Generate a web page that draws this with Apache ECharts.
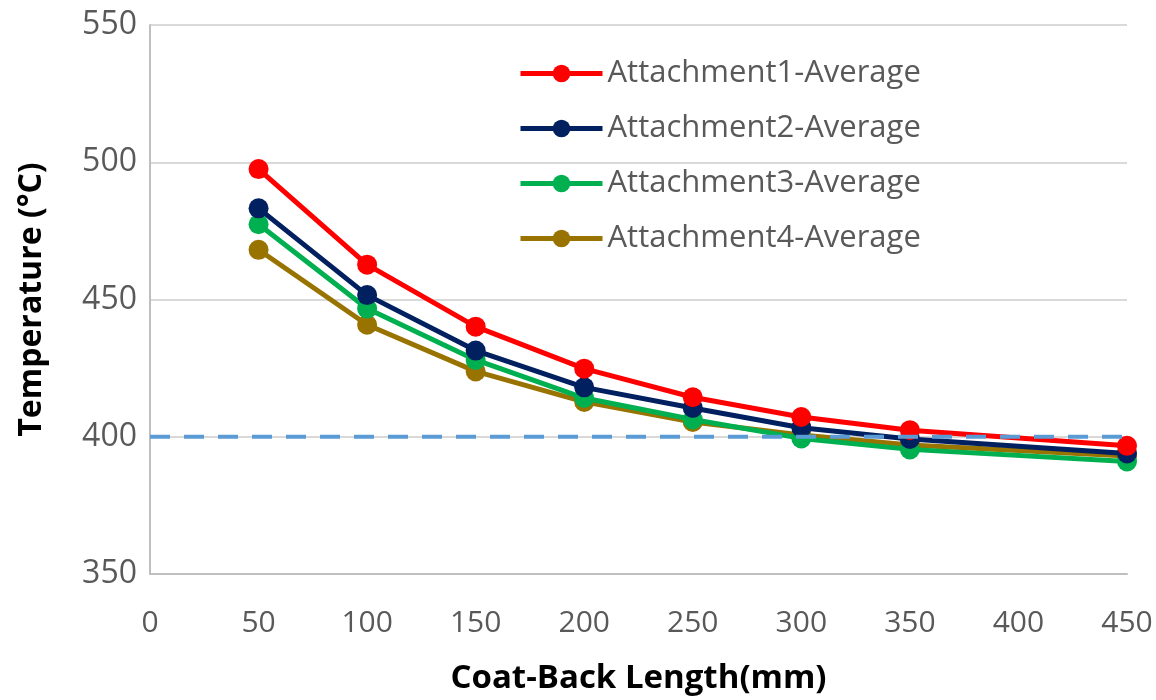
<!DOCTYPE html>
<html><head><meta charset="utf-8">
<script src="https://cdn.jsdelivr.net/npm/echarts@6/dist/echarts.min.js"></script>
<style>html,body{margin:0;padding:0;background:#fff}#c{width:1156px;height:700px}</style>
</head><body><div id="c"></div>
<script>
const xValues = [50, 100, 150, 200, 250, 300, 350, 450];
const seriesNames = ['Attachment1-Average','Attachment2-Average','Attachment3-Average','Attachment4-Average'];
const att1 = [497.5, 462.7, 440.1, 424.8, 414.4, 407.2, 402.4, 396.7];
const att2 = [483.2, 451.6, 431.4, 418.0, 410.5, 403.3, 399.2, 393.9];
const att3 = [477.4, 446.7, 428.0, 414.1, 406.3, 399.4, 395.4, 391.0];
const att4 = [468.1, 440.8, 423.8, 412.7, 405.4, 400.6, 397.0, 393.0];
const colors = ['#FF0000', '#002060', '#00B050', '#997300'];
const thresholdX = [0, 450];
const thresholdY = 400;
const xTicks = {min: 0, max: 450, interval: 50};
const yTicks = {min: 350, max: 550, interval: 50};

const FONT = '"Open Sans", sans-serif';
const all = [att1, att2, att3, att4];
const chart = echarts.init(document.getElementById('c'));
const series = all.map((d, i) => ({
  name: seriesNames[i], type: 'line',
  data: xValues.map((x, j) => [x, d[j]]),
  symbol: 'circle', symbolSize: 20,
  itemStyle: {color: colors[i]},
  lineStyle: {color: colors[i], width: 5},
  z: 10 - i
}));
series.push({
  name: 'threshold', type: 'line',
  data: thresholdX.map(x => [x, thresholdY]),
  symbol: 'none', silent: true,
  lineStyle: {color: '#5B9BD5', width: 4, type: [20, 14]},
  z: 20
});
chart.setOption({
  animation: false,
  grid: {left: 150, right: 29, top: 25, bottom: 123},
  legend: {
    data: seriesNames, orient: 'vertical', left: 518, top: 58, padding: 0,
    itemWidth: 82, itemHeight: 22, itemGap: 24,
    lineStyle: {width: 5},
    textStyle: {fontFamily: FONT, fontSize: 31, color: '#595959', lineHeight: 31}
  },
  xAxis: {
    type: 'value', min: xTicks.min, max: xTicks.max, interval: xTicks.interval,
    name: 'Coat-Back Length(mm)', nameLocation: 'middle', nameGap: 88,
    nameTextStyle: {fontFamily: FONT, fontSize: 33, fontWeight: 'bold', color: '#000'},
    axisLine: {show: true, lineStyle: {color: '#bfbfbf', width: 2}},
    axisTick: {show: false},
    splitLine: {show: false},
    axisLabel: {fontFamily: FONT, fontSize: 30, color: '#595959', margin: 34}
  },
  yAxis: {
    type: 'value', min: yTicks.min, max: yTicks.max, interval: yTicks.interval,
    name: 'Temperature (°C)', nameLocation: 'middle', nameGap: 102,
    nameTextStyle: {fontFamily: FONT, fontSize: 32, fontWeight: 'bold', color: '#000'},
    axisLine: {show: true, lineStyle: {color: '#bfbfbf', width: 2}},
    axisTick: {show: false},
    splitLine: {show: true, lineStyle: {color: '#d9d9d9', width: 2}},
    axisLabel: {fontFamily: FONT, fontSize: 32, color: '#595959', margin: 13}
  },
  series: series
});
</script></body></html>
